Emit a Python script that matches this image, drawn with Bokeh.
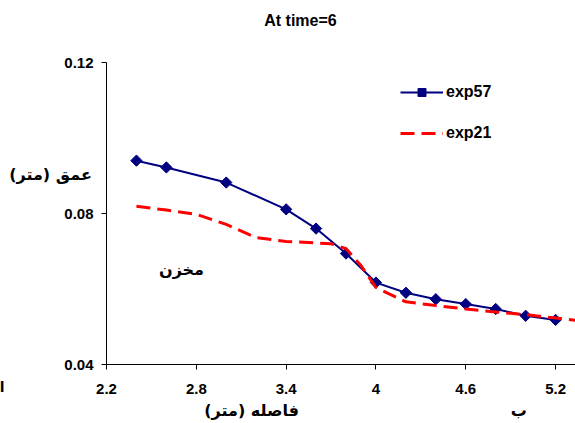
from bokeh.plotting import figure
from bokeh.models import Range1d, FixedTicker, Label, Legend, LegendItem
from bokeh.embed import file_html
from bokeh.resources import INLINE

# data
exp57_x = [2.4, 2.6, 3.0, 3.4, 3.6, 3.8, 4.0, 4.2, 4.4, 4.6, 4.8, 5.0, 5.2]
exp57_y = [0.0940, 0.0922, 0.0882, 0.0811, 0.0760, 0.0694, 0.0617, 0.0590, 0.0573, 0.0560, 0.0547, 0.0529, 0.0518]
exp21_x = [2.4, 2.6, 2.8, 3.0, 3.2, 3.4, 3.6, 3.7, 3.8, 3.9, 4.0, 4.2, 4.4, 4.6, 4.8, 5.0, 5.2, 5.4]
exp21_y = [0.0819, 0.0809, 0.0798, 0.0771, 0.0736, 0.0726, 0.0722, 0.0720, 0.0707, 0.0662, 0.0604, 0.0566, 0.0556, 0.0547, 0.0539, 0.0532, 0.0523, 0.0514]
x_ticks = [2.2, 2.8, 3.4, 4.0, 4.6, 5.2]
x_tick_labels = ["2.2", "2.8", "3.4", "4", "4.6", "5.2"]
y_ticks = [0.04, 0.08, 0.12]
y_tick_labels = ["0.04", "0.08", "0.12"]
title_text = "At time=6"
y_label = "عمق (متر)"
x_label = "فاصله (متر)"
corner_label = "ب"
region_label = "مخزن"
fragment_label = "الف"

p = figure(width=575, height=423, output_backend="svg", toolbar_location=None,
           x_range=Range1d(2.2, 5.333), y_range=Range1d(0.04, 0.12),
           min_border_left=106, min_border_right=0, min_border_top=62, min_border_bottom=59)
p.outline_line_color = None
p.xgrid.visible = False
p.ygrid.visible = False
p.background_fill_color = "white"
p.border_fill_color = "white"

for ax in (p.xaxis[0], p.yaxis[0]):
    ax.axis_line_color = "black"
    ax.major_tick_line_color = "black"
    ax.major_tick_out = 5
    ax.major_tick_in = 0
    ax.minor_tick_line_color = None
    ax.major_label_text_font = "Liberation Sans"
    ax.major_label_text_font_style = "bold"
    ax.major_label_text_font_size = "15px"
    ax.major_label_text_color = "black"

p.xaxis[0].ticker = FixedTicker(ticks=x_ticks)
p.xaxis[0].major_label_overrides = {t: l for t, l in zip(x_ticks, x_tick_labels)}
p.xaxis[0].major_label_standoff = 14
p.yaxis[0].ticker = FixedTicker(ticks=y_ticks)
p.yaxis[0].major_label_overrides = {t: l for t, l in zip(y_ticks, y_tick_labels)}
p.yaxis[0].major_label_standoff = 8

r57l = p.line(exp57_x, exp57_y, line_color="#000080", line_width=2)
r57m = p.scatter(exp57_x, exp57_y, marker="square", angle=0.785398, size=8,
                 fill_color="#000080", line_color="#000080")
r21 = p.line(exp21_x, exp21_y, line_color="#FF0000", line_width=3, line_dash="14 7")

legend = Legend(items=[LegendItem(label="exp57", renderers=[r57l, r57m]),
                       LegendItem(label="exp21", renderers=[r21])],
                location=(294, 221), orientation="vertical",
                glyph_width=43, glyph_height=20, label_height=20, spacing=21,
                padding=0, margin=0, label_standoff=3,
                border_line_color=None, background_fill_alpha=0,
                label_text_font="Liberation Sans", label_text_font_style="bold",
                label_text_font_size="16px", label_text_color="black")
p.add_layout(legend, "center")

def lab(text, x, y, size, place, font="DejaVu Sans", align="center"):
    p.add_layout(Label(x=x, y=y, x_units="screen", y_units="screen", text=text,
                       text_font=font, text_font_style="bold", text_font_size=size,
                       text_align=align, text_baseline="middle", text_color="black"), place)

lab(region_label, 75, 95, "16px", "center")
lab(title_text, 194, 42, "16px", "above", font="Liberation Sans")
lab(y_label, -56, -129, "16px", "above")
lab(fragment_label, -102, -360, "14px", "above", align="right")
lab(corner_label + "\u00a0" * 38 + x_label, 259, 5, "16px", "below")

open("out.html", "w").write(file_html(p, INLINE))
